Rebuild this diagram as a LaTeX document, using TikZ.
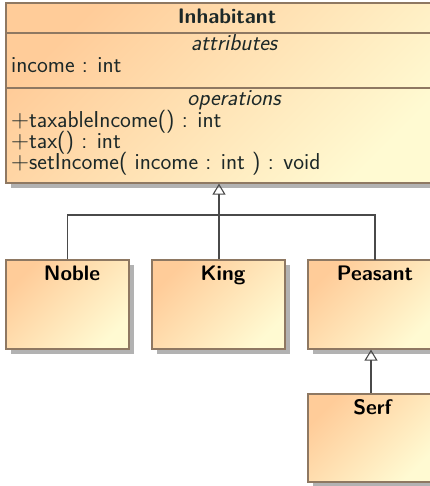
\documentclass[tikz,border=0pt]{standalone}
\usetikzlibrary{arrows.meta,shadows}
\definecolor{peach}{HTML}{FFCC99}
\definecolor{cream}{HTML}{FFFAD2}
\definecolor{rim}{HTML}{8E7862}
\definecolor{wire}{HTML}{4A4A4A}
\definecolor{ink}{HTML}{1C2828}
\tikzset{
  umlclass/.style={draw=rim, line width=1.2pt, left color=peach, right color=cream,
    shading angle=45, inner sep=0pt,
    drop shadow={shadow xshift=5pt, shadow yshift=-5pt, fill=black!30, opacity=1}},
  classname/.style={font=\sffamily\bfseries\fontsize{21}{22}\selectfont, text=black, inner sep=0pt, anchor=base},
  member/.style={font=\sffamily\fontsize{23}{21}\selectfont, text=ink, inner sep=0pt, anchor=base west},
  stereo/.style={font=\sffamily\itshape\fontsize{23}{21}\selectfont, text=ink, inner sep=0pt, anchor=base},
  wireline/.style={draw=wire, line width=1.2pt},
  generalize/.style={wireline, -{Triangle[open, length=11pt, width=13pt, line width=1.1pt]}},
}
\begin{document}
\begin{tikzpicture}[x=1pt, y=-1pt]
  \useasboundingbox (0,0) rectangle (429,486);

  % superclass with its compartments
  \node[umlclass, minimum width=434pt, minimum height=180pt] (inh) at (223,93) {};
  \draw[draw=rim, line width=1.2pt] (inh.west |- 0,33) -- (inh.east |- 0,33);
  \draw[draw=rim, line width=1.2pt] (inh.west |- 0,88) -- (inh.east |- 0,88);
  \node[classname, text=ink] (inhname) at (227,24) {Inhabitant};
  \node[stereo] (attrhead) at (234,51) {attributes};
  \node[member] (attr1) at (11,72.5) {income : int};
  \node[stereo] (ophead) at (234,106) {operations};
  \node[member] (op1) at (11,128) {$+$taxableIncome() : int};
  \node[member] (op2) at (11,149) {$+$tax() : int};
  \node[member] (op3) at (11,170) {$+$setIncome( income : int ) : void};

  % subclasses
  \node[umlclass, minimum width=123pt, minimum height=89pt] (noble) at (67.5,304.5) {};
  \node[umlclass, minimum width=133pt, minimum height=89pt] (king) at (218.5,304.5) {};
  \node[umlclass, minimum width=126pt, minimum height=89pt] (peasant) at (371,304.5) {};
  \node[umlclass, minimum width=126pt, minimum height=88pt] (serf) at (371,438) {};

  \node[classname] (noblename) at (72,280) {Noble};
  \node[classname] (kingname) at (223,280) {King};
  \node[classname] (peasantname) at (375,280) {Peasant};
  \node[classname] (serfname) at (372.5,414) {Serf};

  % generalization tree
  \coordinate (fork) at (219,215);
  \coordinate (peasanttop) at (375,260);
  \draw[wireline] (noble.north) |- (fork) -| (peasanttop);
  \draw[generalize] (king.north -| fork) -- (inh.south -| fork);
  \draw[generalize] (serf.north) -- (serf.north |- peasant.south);
\end{tikzpicture}
\end{document}
